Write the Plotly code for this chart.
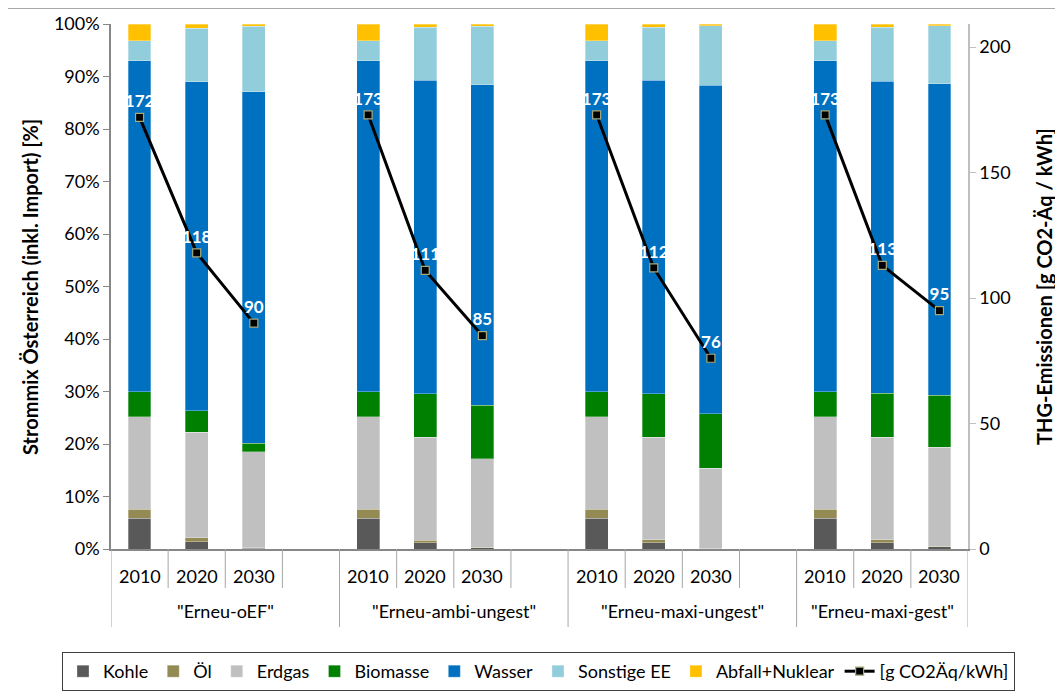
import plotly.graph_objects as go

scenarios = ['"Erneu-oEF"', '"Erneu-ambi-ungest"', '"Erneu-maxi-ungest"', '"Erneu-maxi-gest"']
years = ["2010", "2020", "2030"]

# shares in % per scenario, per year (2010, 2020, 2030)
kohle = [[5.85, 1.4, 0.15], [5.85, 1.2, 0.25], [5.85, 1.2, 0.1], [5.85, 1.2, 0.4]]
oel = [[1.75, 0.7, 0.05], [1.75, 0.5, 0.05], [1.75, 0.6, 0.05], [1.75, 0.6, 0.1]]
erdgas = [[17.6, 20.1, 18.3], [17.6, 19.6, 16.9], [17.6, 19.5, 15.25], [17.6, 19.5, 18.9]]
biomasse = [[4.8, 4.1, 1.6], [4.8, 8.3, 10.2], [4.8, 8.3, 10.4], [4.8, 8.4, 9.9]]
wasser = [[63.0, 62.7, 67.0], [63.0, 59.7, 61.0], [63.0, 59.7, 62.5], [63.0, 59.4, 59.3]]
sonstige = [[3.8, 10.2, 12.5], [3.8, 10.1, 11.2], [3.8, 10.1, 11.4], [3.8, 10.3, 11.1]]
abfall = [[3.2, 0.8, 0.4], [3.2, 0.6, 0.4], [3.2, 0.6, 0.3], [3.2, 0.6, 0.3]]
emissionen = [[172, 118, 90], [173, 111, 85], [173, 112, 76], [173, 113, 95]]

series = [
    ("Kohle", kohle, "#595959"),
    ("Öl", oel, "#948A54"),
    ("Erdgas", erdgas, "#C0C0C0"),
    ("Biomasse", biomasse, "#008000"),
    ("Wasser", wasser, "#0070C0"),
    ("Sonstige EE", sonstige, "#92CDDC"),
    ("Abfall+Nuklear", abfall, "#FFC000"),
]

FONT = "Lato"
GRAY = "#878787"

# x positions: 4 slots per scenario (3 years + gap)
xpos = []
for g in range(len(scenarios)):
    for j in range(len(years)):
        xpos.append(g * 4 + j)

fig = go.Figure()
for name, vals, col in series:
    flat = [v for row in vals for v in row]
    fig.add_trace(go.Bar(
        x=xpos, y=flat, name=name, width=0.4,
        marker=dict(color=col, line=dict(color="rgba(255,255,255,0.5)", width=0.6)),
        hoverinfo="skip",
    ))

# emission line: separate segments per scenario
for g, row in enumerate(emissionen):
    fig.add_trace(go.Scatter(
        x=[g * 4 + j for j in range(len(years))], y=row, yaxis="y2",
        mode="lines+markers+text",
        name="[g CO2Äq/kWh]", showlegend=(g == 0), legendgroup="em",
        line=dict(color="black", width=3),
        marker=dict(symbol="square", size=8, color="black",
                    line=dict(color="#A8A878", width=1.2)),
        text=[str(v) for v in row], textposition="top center",
        textfont=dict(color="white", size=17, family=FONT, weight="bold"),
        hoverinfo="skip",
    ))

nslots = len(scenarios) * 4 - 1
x_lo, x_hi = -0.5, nslots - 0.5

shapes = []
annotations = []
def py(px):
    return (549 - px) / 525.0
def pxx(px):
    return (px - 111) / 857.0

# year separators & group separators
for b in range(nslots + 1):
    xb = b - 0.5
    is_group = (b % 4 == 0) or b == nslots
    shapes.append(dict(type="line", xref="x", yref="paper", x0=xb, x1=xb,
                       y0=0, y1=py(627) if is_group else py(588),
                       line=dict(color="#A6A6A6", width=1)))
# chart-area top border
shapes.append(dict(type="line", xref="paper", yref="paper", x0=pxx(0), x1=pxx(1063),
                   y0=py(8), y1=py(8), line=dict(color="#8C8C8C", width=1.5)))

for g, sc in enumerate(scenarios):
    for j, yr in enumerate(years):
        annotations.append(dict(x=g * 4 + j, y=py(576), xref="x", yref="paper",
                                text=yr, showarrow=False, yanchor="middle",
                                font=dict(size=18, color="black", family=FONT)))
    g_lo = g * 4 - 0.5
    g_hi = min(g * 4 + 3.5, x_hi)
    annotations.append(dict(x=(g_lo + g_hi) / 2, y=py(611), xref="x", yref="paper",
                            text=sc, showarrow=False, yanchor="middle",
                            font=dict(size=18, color="black", family=FONT)))

annotations.append(dict(x=pxx(30), y=py(287), xref="paper", yref="paper",
                        text="<b>Strommix Österreich (inkl. Import) [%]</b>", textangle=-90,
                        showarrow=False, xanchor="center", yanchor="middle",
                        font=dict(size=20, color="black", family=FONT)))
annotations.append(dict(x=pxx(1044), y=py(287), xref="paper", yref="paper",
                        text="<b>THG-Emissionen [g CO2-Äq / kWh]</b>", textangle=-90,
                        showarrow=False, xanchor="center", yanchor="middle",
                        font=dict(size=20, color="black", family=FONT)))

# the page body adds an 8px offset; figure is sized so the plot lands where it should
fig.update_layout(
    width=1055, height=683,
    margin=dict(l=103, r=95, t=16, b=142, autoexpand=False),
    paper_bgcolor="white", plot_bgcolor="white",
    barmode="stack",
    font=dict(family=FONT, size=18, color="black"),
    xaxis=dict(range=[x_lo, x_hi], showticklabels=False, ticks="", showgrid=False,
               zeroline=False, showline=True, linecolor=GRAY, linewidth=1.5),
    yaxis=dict(range=[0, 100], tickvals=list(range(0, 101, 10)),
               ticktext=[f"{v}%" for v in range(0, 101, 10)],
               showgrid=False, zeroline=False, showline=True, linecolor=GRAY, linewidth=1.5,
               ticks="outside", ticklen=6, tickcolor=GRAY,
               tickfont=dict(size=18, family=FONT, color="black")),
    yaxis2=dict(range=[0, 209.2], overlaying="y", side="right",
                tickvals=[0, 50, 100, 150, 200],
                showgrid=False, zeroline=False, showline=True, linecolor="#BFBFBF", linewidth=1.5,
                ticks="outside", ticklen=6, tickcolor="#BFBFBF",
                tickfont=dict(size=18, family=FONT, color="black")),
    legend=dict(orientation="h", x=pxx(62), xanchor="left", y=py(652), yanchor="top",
                bordercolor="#404040", borderwidth=1, bgcolor="white",
                font=dict(size=18, family=FONT, color="black"),
                traceorder="normal", itemwidth=30, tracegroupgap=0),
    shapes=shapes,
    annotations=annotations,
    showlegend=True,
)

fig.write_html("out.html")
